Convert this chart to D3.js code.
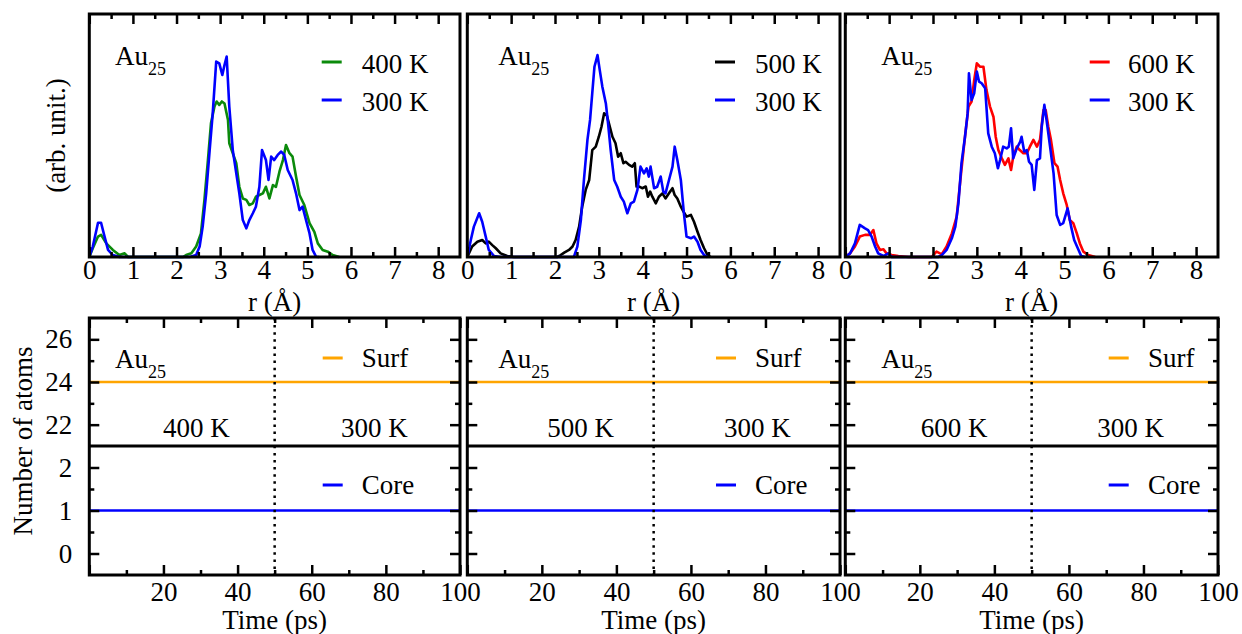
<!DOCTYPE html>
<html><head><meta charset="utf-8">
<script src="https://cdn.jsdelivr.net/npm/d3@7"></script>
<style>
body{margin:0;background:#fff}
text{font-family:"Liberation Serif","Times New Roman",serif;font-size:27px;fill:#000}
</style>
</head><body>
<svg id="chart" width="1242" height="634"></svg>
<script>
// ---------------- DATA ----------------
const hotLabels = ["400 K", "500 K", "600 K"];
const coldLabel = "300 K";
const rTicks = [0, 1, 2, 3, 4, 5, 6, 7, 8];
const rMinorTicks = [0.5, 1.5, 2.5, 3.5, 4.5, 5.5, 6.5, 7.5];
const timeTicks = [0, 20, 40, 60, 80, 100];
const timeMinorTicks = [10, 30, 50, 70, 90];
const surfTicks = [22, 24, 26];
const surfMinorTicks = [23, 25];
const coreTicks = [0, 1, 2];
const coreMinorTicks = [0.5, 1.5];

// Panel 1: 400 K vs 300 K
const p1HotR = [0,0.08,0.2,0.27,0.39,0.54,0.69,0.81,0.89,2.15,2.22,2.34,2.45,2.56,2.64,2.72,2.79,2.87,2.92,2.98,3.04,3.1,3.18,3.21,3.29,3.37,3.44,3.52,3.6,3.67,3.75,3.82,3.9,3.98,4.05,4.13,4.21,4.28,4.36,4.44,4.51,4.59,4.66,4.74,4.82,4.93,5.05,5.16,5.24,5.35,5.47,5.58,5.73];
const p1HotV = [0,3.6,8.4,9.1,5.6,2.9,0.8,1.5,0,0,0.8,1.5,4.3,9.7,23.5,39.9,55,61.9,64,62.6,64,63.2,56.4,46.8,42.7,38.6,28.9,24.1,23.5,21.4,22.1,24.8,25.5,26.2,28.9,24.1,29.6,28.9,35.1,39.9,46.1,42.7,41.3,33.1,25.5,21.4,13.9,10.3,5.6,2.9,2.2,0.8,0];
const p1ColdR = [0,0.08,0.2,0.27,0.35,0.43,0.54,0.69,2.3,2.45,2.53,2.6,2.68,2.76,2.83,2.91,2.98,3.05,3.1,3.15,3.21,3.29,3.37,3.44,3.52,3.6,3.67,3.75,3.82,3.9,3.96,4.05,4.11,4.17,4.24,4.32,4.4,4.47,4.55,4.66,4.74,4.82,4.89,4.97,5.05,5.12,5.2,5.27];
const p1ColdV = [0,4.3,14.1,14.1,8.4,2.9,0.8,0,0,0.8,4.3,12.5,26.2,44,59.1,80.4,79.7,74.9,79,82.5,61.9,44,34.4,26.2,15.2,11.8,15.2,18,20.7,28.9,44,39.9,31.7,41.3,39.9,42,43.4,42,35.8,31.7,26.2,19.3,20.7,15.2,9.7,2.9,0.1,0];

// Panel 2: 500 K vs 300 K
const p2HotR = [0,0.11,0.23,0.34,0.42,0.49,0.57,0.65,0.76,0.91,1.06,2.05,2.13,2.21,2.32,2.4,2.47,2.55,2.62,2.7,2.78,2.85,2.93,3.0,3.06,3.12,3.18,3.23,3.31,3.38,3.44,3.5,3.56,3.61,3.69,3.76,3.82,3.86,3.92,3.99,4.07,4.12,4.17,4.22,4.3,4.37,4.45,4.52,4.6,4.68,4.73,4.79,4.87,4.93,5.0,5.1,5.17,5.25,5.32,5.4,5.48,5.55];
const p2HotV = [0,4.3,6.3,7,5.6,6.3,4.9,3.6,1.5,0.4,0,0,0.8,1.8,2.9,4.3,7,12.5,20.7,27.6,31.7,44,45.4,49.5,53.6,59.1,58.4,55,49.5,46.8,41.3,42.7,38.6,39.2,37.9,37.2,38.6,29,29,28.3,29,24.8,26.9,24.8,22.1,24.8,26.2,24.1,26.2,28.3,25.5,24.1,20.7,18.7,16.6,17.3,14.5,10.4,7,3.6,0.8,0];
const p2ColdR = [0,0.08,0.15,0.27,0.34,0.42,0.49,0.61,0.76,2.43,2.51,2.59,2.66,2.74,2.8,2.85,2.9,2.97,3.02,3.08,3.16,3.21,3.27,3.35,3.42,3.5,3.57,3.65,3.73,3.8,3.88,3.95,4.03,4.09,4.14,4.18,4.26,4.33,4.41,4.47,4.52,4.6,4.68,4.73,4.79,4.87,4.94,5.0,5.1,5.17,5.25,5.32,5.4,5.48];
const p2ColdV = [0,7,12.5,18,14.5,8.4,2.9,0.4,0,0,4.3,15.2,31.7,48.2,56.4,67.4,78.3,83.1,77,70.1,63.2,55,44,31.7,28.9,24.8,22.8,18,22.1,22.8,27.6,37.2,34.4,36.5,33.1,37.2,28.3,28.9,33.1,26.9,26.2,31.7,37.2,45.4,39.9,31.7,18,8.4,7.7,8.4,6.3,2.9,0.8,0];

// Panel 3: 600 K vs 300 K
const p3HotR = [0,0.11,0.22,0.33,0.45,0.56,0.64,0.71,0.79,0.87,0.94,1.06,1.21,1.44,1.97,2.08,2.16,2.2,2.31,2.43,2.54,2.64,2.73,2.81,2.88,2.94,3.0,3.07,3.15,3.22,3.3,3.38,3.43,3.49,3.57,3.64,3.72,3.78,3.83,3.91,3.98,4.06,4.14,4.21,4.29,4.37,4.44,4.52,4.57,4.63,4.69,4.77,4.84,4.9,4.97,5.05,5.12,5.2,5.28,5.35,5.43,5.54,5.7];
const p3HotV = [0,1.5,4.3,8.4,9.1,9.1,11.1,5.6,2.9,3.2,1.5,0.8,0.4,0,0,2.2,1.5,1.2,4.3,9.7,16.6,34.4,49.5,61.9,64,72.9,79.7,78.3,78.3,68.7,61.9,57.6,49.5,44,40.6,37.9,40.6,35.8,41.3,45.4,44,42.7,42.7,45.4,48.2,45.4,48.2,60.5,60.5,53.6,48.2,38.6,37.2,31.7,26.2,21.4,15.2,13.9,9.7,5.6,2.2,0.8,0];
const p3ColdR = [0,0.11,0.22,0.33,0.45,0.52,0.6,0.68,0.75,0.87,0.98,1.06,2.12,2.2,2.31,2.43,2.51,2.58,2.65,2.73,2.79,2.82,2.88,2.94,3.0,3.05,3.11,3.19,3.26,3.34,3.41,3.48,3.53,3.6,3.68,3.73,3.78,3.83,3.91,3.99,4.02,4.08,4.14,4.19,4.25,4.31,4.37,4.44,4.48,4.54,4.59,4.67,4.75,4.82,4.9,4.97,5.07,5.15,5.22,5.32,5.38,5.47];
const p3ColdV = [0,1.5,5.6,13.2,11.8,11.1,8.4,4.3,1.5,0.4,1.5,0,0,0.8,2.9,7.7,12.5,22.1,38.6,49.5,59.1,75.6,64.6,67.4,76.3,72.2,71.5,69.4,50.9,45.4,42.7,36.5,39.9,45.4,44.7,45.4,53,40.6,44.7,47.5,49.5,43.4,44,39.2,37.9,27.6,39.9,40.6,53.6,62.6,56.4,45.4,34.4,17.3,13.2,13.9,20,12.5,7,2.9,0.4,0];

// Bottom row: number of atoms vs time
const timePs = [0, 50, 100];
const surfAtoms = [24, 24, 24];
const coreAtoms = [1, 1, 1];
const switchTime = 50;

// ---------------- STYLE / LAYOUT ----------------
const hotColors = ["#0b8a0b", "#000000", "#ff0000"];
const coldColor = "#0000ff";
const surfColor = "#ffa500";
const coreColor = "#0000ff";

const svg = d3.select("#chart");
const TOP = {y0: 14, y1: 257};
const BOT = {y0: 318, ym: 446, y1: 575};
const panels = [
  {x0: 89.3, x1: 460, hotR: p1HotR, hotV: p1HotV, coldR: p1ColdR, coldV: p1ColdV,
   lay: {au: 25.7, tLegLine: 232.4, tLegText: 272.4, hotLbl: 73.7, coldLbl: 251.7, bLegLine: 233.4, bLegText: 272.4}},
  {x0: 467.3, x1: 840, hotR: p2HotR, hotV: p2HotV, coldR: p2ColdR, coldV: p2ColdV,
   lay: {au: 31, tLegLine: 247.7, tLegText: 287.7, hotLbl: 80, coldLbl: 256.7, bLegLine: 248.7, bLegText: 287.7}},
  {x0: 845.3, x1: 1218, hotR: p3HotR, hotV: p3HotV, coldR: p3ColdR, coldV: p3ColdV,
   lay: {au: 36, tLegLine: 244.4, tLegText: 282.7, hotLbl: 75.4, coldLbl: 252, bLegLine: 263.4, bLegText: 302.7}}
];

const topY = d3.scaleLinear().domain([0, 100]).range([TOP.y1, TOP.y0]);
const upY = d3.scaleLinear().domain([21, 27]).range([BOT.ym, BOT.y0]);
const loY = d3.scaleLinear().domain([-0.5, 2.5]).range([BOT.y1, BOT.ym]);
const intFmt = d3.format("d");

function styleAxis(g) {
  g.select(".domain").remove();
  g.selectAll("line").attr("stroke", "#000").attr("stroke-width", 2.5);
  g.attr("font-family", null).attr("font-size", null);
}
function addAu(x, y) {
  const t = svg.append("text").attr("x", x).attr("y", y);
  t.append("tspan").text("Au");
  t.append("tspan").attr("dy", 10).style("font-size", "18px").text("25");
}

panels.forEach((p, i) => {
  const L = p.lay;
  // ---------- top row: radial distribution ----------
  const x = d3.scaleLinear().domain([0, 8.5]).range([p.x0, p.x1]);
  const line = d3.line().x(d => x(d[0])).y(d => topY(d[1]));
  svg.append("path").datum(d3.zip(p.hotR, p.hotV)).attr("d", line)
    .attr("fill", "none").attr("stroke", hotColors[i]).attr("stroke-width", 2.6).attr("stroke-linejoin", "round");
  svg.append("path").datum(d3.zip(p.coldR, p.coldV)).attr("d", line)
    .attr("fill", "none").attr("stroke", coldColor).attr("stroke-width", 2.6).attr("stroke-linejoin", "round");

  svg.append("g").attr("transform", `translate(0,${TOP.y1})`)
    .call(d3.axisBottom(x).tickValues(rTicks).tickSize(-10).tickPadding(3).tickFormat(intFmt)).call(styleAxis);
  svg.append("g").attr("transform", `translate(0,${TOP.y1})`)
    .call(d3.axisBottom(x).tickValues(rMinorTicks).tickSize(-5).tickFormat("")).call(styleAxis);
  svg.append("g").attr("transform", `translate(0,${TOP.y0})`)
    .call(d3.axisTop(x).tickValues(rTicks).tickSize(-10).tickFormat("")).call(styleAxis);
  svg.append("g").attr("transform", `translate(0,${TOP.y0})`)
    .call(d3.axisTop(x).tickValues(rMinorTicks).tickSize(-5).tickFormat("")).call(styleAxis);
  svg.append("rect").attr("x", p.x0).attr("y", TOP.y0).attr("width", p.x1 - p.x0).attr("height", TOP.y1 - TOP.y0)
    .attr("fill", "none").attr("stroke", "#000").attr("stroke-width", 3);

  svg.append("text").attr("x", (p.x0 + p.x1) / 2).attr("y", 311).attr("text-anchor", "middle").text("r (Å)");
  addAu(p.x0 + L.au, 65);
  [[hotLabels[i], hotColors[i], 62, 72.7], [coldLabel, coldColor, 100, 110.5]].forEach(([lab, col, ly, ty]) => {
    svg.append("line").attr("x1", p.x0 + L.tLegLine).attr("x2", p.x0 + L.tLegLine + 20)
      .attr("y1", ly).attr("y2", ly).attr("stroke", col).attr("stroke-width", 3);
    svg.append("text").attr("x", p.x0 + L.tLegText).attr("y", ty).text(lab);
  });

  // ---------- bottom row: number of atoms ----------
  const xt = d3.scaleLinear().domain([0, 100]).range([p.x0, p.x1]);
  svg.append("path").datum(d3.zip(timePs, surfAtoms))
    .attr("d", d3.line().x(d => xt(d[0])).y(d => upY(d[1])))
    .attr("fill", "none").attr("stroke", surfColor).attr("stroke-width", 2.6);
  svg.append("path").datum(d3.zip(timePs, coreAtoms))
    .attr("d", d3.line().x(d => xt(d[0])).y(d => loY(d[1])))
    .attr("fill", "none").attr("stroke", coreColor).attr("stroke-width", 2.6);
  svg.append("line").attr("x1", xt(switchTime)).attr("x2", xt(switchTime))
    .attr("y1", BOT.y0).attr("y2", BOT.y1).attr("stroke", "#000").attr("stroke-width", 2.5)
    .attr("stroke-dasharray", "2.5,4.6");

  svg.append("g").attr("transform", `translate(0,${BOT.y1})`)
    .call(d3.axisBottom(xt).tickValues(timeTicks).tickSize(-10).tickPadding(7)
      .tickFormat(d => d === 0 ? "" : intFmt(d))).call(styleAxis);
  svg.append("g").attr("transform", `translate(0,${BOT.y1})`)
    .call(d3.axisBottom(xt).tickValues(timeMinorTicks).tickSize(-5).tickFormat("")).call(styleAxis);
  svg.append("g").attr("transform", `translate(0,${BOT.y0})`)
    .call(d3.axisTop(xt).tickValues(timeTicks).tickSize(-10).tickFormat("")).call(styleAxis);
  svg.append("g").attr("transform", `translate(0,${BOT.y0})`)
    .call(d3.axisTop(xt).tickValues(timeMinorTicks).tickSize(-5).tickFormat("")).call(styleAxis);

  [[upY, surfTicks, surfMinorTicks], [loY, coreTicks, coreMinorTicks]].forEach(([ys, maj, mnr]) => {
    const left = d3.axisLeft(ys).tickValues(maj).tickSize(-10).tickPadding(17)
      .tickFormat(i === 0 ? intFmt : "");
    svg.append("g").attr("transform", `translate(${p.x0},0)`).call(left).call(styleAxis);
    svg.append("g").attr("transform", `translate(${p.x0},0)`)
      .call(d3.axisLeft(ys).tickValues(mnr).tickSize(-5).tickFormat("")).call(styleAxis);
    svg.append("g").attr("transform", `translate(${p.x1},0)`)
      .call(d3.axisRight(ys).tickValues(maj).tickSize(-10).tickFormat("")).call(styleAxis);
    svg.append("g").attr("transform", `translate(${p.x1},0)`)
      .call(d3.axisRight(ys).tickValues(mnr).tickSize(-5).tickFormat("")).call(styleAxis);
  });

  svg.append("rect").attr("x", p.x0).attr("y", BOT.y0).attr("width", p.x1 - p.x0).attr("height", BOT.y1 - BOT.y0)
    .attr("fill", "none").attr("stroke", "#000").attr("stroke-width", 3);
  svg.append("line").attr("x1", p.x0).attr("x2", p.x1).attr("y1", BOT.ym).attr("y2", BOT.ym)
    .attr("stroke", "#000").attr("stroke-width", 3);

  addAu(p.x0 + L.au, 368);
  svg.append("text").attr("x", p.x0 + L.hotLbl).attr("y", 437).text(hotLabels[i]);
  svg.append("text").attr("x", p.x0 + L.coldLbl).attr("y", 437).text(coldLabel);
  [["Surf", surfColor, 358, 367], ["Core", coreColor, 485, 493.5]].forEach(([lab, col, ly, ty]) => {
    svg.append("line").attr("x1", p.x0 + L.bLegLine).attr("x2", p.x0 + L.bLegLine + 20)
      .attr("y1", ly).attr("y2", ly).attr("stroke", col).attr("stroke-width", 3);
    svg.append("text").attr("x", p.x0 + L.bLegText).attr("y", ty).text(lab);
  });
  svg.append("text").attr("x", (p.x0 + p.x1) / 2).attr("y", 629).attr("text-anchor", "middle").text("Time (ps)");
});

svg.append("text").attr("transform", "translate(65,135.5) rotate(-90)").attr("text-anchor", "middle").text("(arb. unit.)");
svg.append("text").attr("transform", "translate(32,441) rotate(-90)").attr("text-anchor", "middle").text("Number of atoms");
</script>
</body></html>
